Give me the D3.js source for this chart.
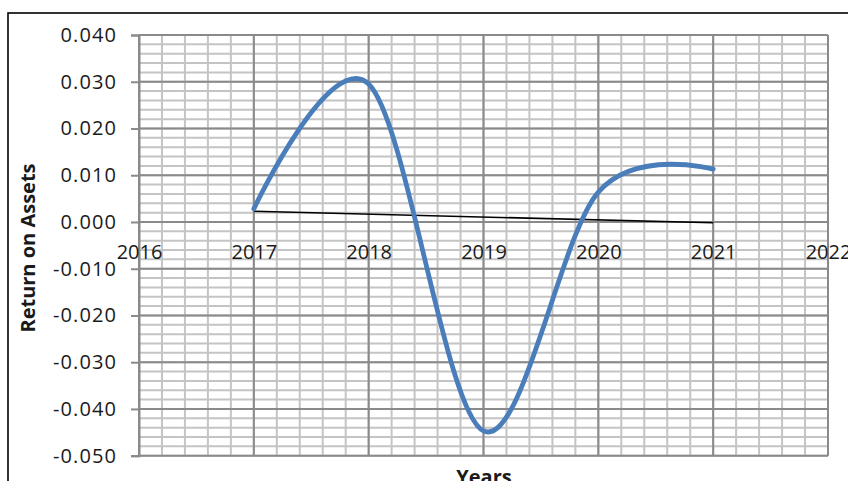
<!DOCTYPE html>
<html>
<head>
<meta charset="utf-8">
<script src="https://cdn.jsdelivr.net/npm/d3@7"></script>
<style>
  html, body { margin: 0; padding: 0; background: #fff; }
  svg { display: block; }
  text { font-family: "Open Sans", "Liberation Sans", sans-serif; fill: #1a1a1a; }
</style>
</head>
<body>
<svg id="chart" width="848" height="481"></svg>
<script>
// Return on assets by year
const years = [2017, 2018, 2019, 2020, 2021];
const roa = [0.0028, 0.0295, -0.0447, 0.0064, 0.0113];

// Axis ticks
const xTickYears = [2016, 2017, 2018, 2019, 2020, 2021, 2022];
const yTickValues = [0.04, 0.03, 0.02, 0.01, 0, -0.01, -0.02, -0.03, -0.04, -0.05];

const xTitle = "Years";
const yTitle = "Return on Assets";

const W = 848, H = 481;
const plot = { left: 139, right: 828, top: 35, bottom: 455.7 };

const svg = d3.select("#chart");
svg.append("rect").attr("width", W).attr("height", H).attr("fill", "#fff");

// Outer chart frame (runs past the right and bottom edges)
svg.append("rect")
  .attr("x", 8).attr("y", 13)
  .attr("width", W + 20).attr("height", H + 20)
  .attr("fill", "none").attr("stroke", "#000").attr("stroke-width", 1.6);

const x = d3.scaleLinear().domain([2016, 2022]).range([plot.left, plot.right]);
const y = d3.scaleLinear().domain([-0.05, 0.04]).range([plot.bottom, plot.top]);

const fmt = d3.formatLocale({ decimal: ".", thousands: ",", grouping: [3], currency: ["$", ""], minus: "-" }).format(".3f");

// Minor gridlines: fifths of a year, 0.002 steps
const minorX = d3.range(0, 31).map(i => 2016 + i * 0.2);
const minorY = d3.range(0, 46).map(i => -0.05 + i * 0.002);
const grid = svg.append("g");
grid.selectAll("line.mx").data(minorX).join("line")
  .attr("x1", d => x(d)).attr("x2", d => x(d))
  .attr("y1", plot.top).attr("y2", plot.bottom)
  .attr("stroke", "#c4c4c4").attr("stroke-width", 2);
grid.selectAll("line.my").data(minorY).join("line")
  .attr("x1", plot.left).attr("x2", plot.right)
  .attr("y1", d => y(d)).attr("y2", d => y(d))
  .attr("stroke", "#c4c4c4").attr("stroke-width", 2);

// Major gridlines
grid.selectAll("line.Mx").data(xTickYears).join("line")
  .attr("x1", d => x(d)).attr("x2", d => x(d))
  .attr("y1", plot.top).attr("y2", plot.bottom)
  .attr("stroke", "#8a8a8a").attr("stroke-width", 2);
grid.selectAll("line.My").data(yTickValues).join("line")
  .attr("x1", plot.left).attr("x2", plot.right)
  .attr("y1", d => y(d)).attr("y2", d => y(d))
  .attr("stroke", "#8a8a8a").attr("stroke-width", 2);

// Value axis
const yAxis = svg.append("g")
  .attr("transform", `translate(${plot.left},0)`)
  .call(d3.axisLeft(y).tickValues(yTickValues).tickFormat(fmt).tickSize(8).tickPadding(14));
yAxis.select(".domain").attr("stroke", "#8a8a8a").attr("stroke-width", 2);
yAxis.selectAll(".tick line").attr("stroke", "#8a8a8a").attr("stroke-width", 2);
yAxis.selectAll(".tick text")
  .style("font-family", "'Open Sans', sans-serif")
  .style("font-size", "20px").style("letter-spacing", "1.1px")
  .attr("fill", "#1a1a1a");

// Category axis crosses at zero
const xAxis = svg.append("g")
  .attr("transform", `translate(0,${y(0)})`)
  .call(d3.axisBottom(x).tickValues(xTickYears).tickFormat(d3.format("d")).tickSize(0).tickPadding(23));
xAxis.select(".domain").remove();
xAxis.selectAll(".tick text")
  .style("font-family", "'Open Sans', sans-serif")
  .style("font-size", "20px")
  .attr("fill", "#1a1a1a");

// Linear trend fitted to the series
const n = years.length;
const mx = d3.mean(years), my = d3.mean(roa);
const slope = d3.sum(years, (v, i) => (v - mx) * (roa[i] - my)) / d3.sum(years, v => (v - mx) ** 2);
const intercept = my - slope * mx;
const trendX = [years[0], years[n - 1]];
svg.append("path")
  .datum(trendX)
  .attr("d", d3.line().x(d => x(d)).y(d => y(intercept + slope * d)))
  .attr("fill", "none").attr("stroke", "#000").attr("stroke-width", 1.6);

// Smoothed series line
const pts = years.map((v, i) => [v, roa[i]]);
svg.append("path")
  .datum(pts)
  .attr("d", d3.line().x(d => x(d[0])).y(d => y(d[1])).curve(d3.curveCardinal.tension(0)))
  .attr("fill", "none").attr("stroke", "#4a7ebb").attr("stroke-width", 4.8)
  .attr("stroke-linecap", "round").attr("stroke-linejoin", "round");

// Axis titles
svg.append("text")
  .attr("x", 484).attr("y", 484)
  .attr("text-anchor", "middle")
  .style("font-weight", "bold").style("font-size", "20px")
  .text(xTitle);
svg.append("text")
  .attr("transform", "translate(35,248) rotate(-90)")
  .attr("text-anchor", "middle")
  .style("font-weight", "bold").style("font-size", "20px")
  .text(yTitle);
</script>
</body>
</html>
